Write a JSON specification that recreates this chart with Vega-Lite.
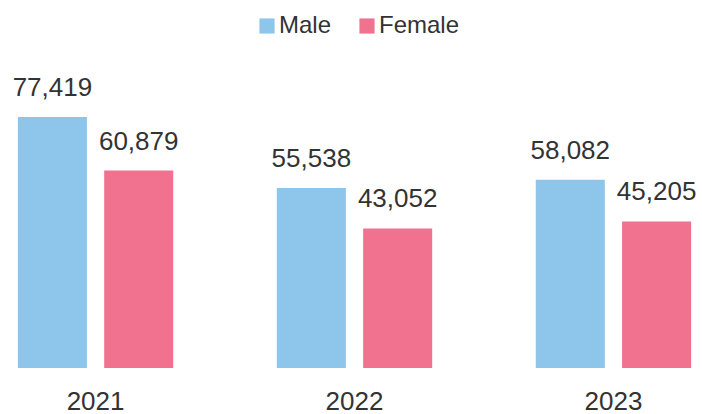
{
  "$schema": "https://vega.github.io/schema/vega-lite/v6.json",
  "width": 695,
  "height": 368,
  "autosize": {"type": "none"},
  "padding": {"left": 7, "top": 0, "right": 0, "bottom": 46},
  "background": "white",
  "config": {
    "view": {"stroke": null},
    "font": "Liberation Sans",
    "text": {"font": "Liberation Sans"}
  },
  "data": {
    "values": [
      {"year": "2021", "sex": "Male", "value": 77419},
      {"year": "2021", "sex": "Female", "value": 60879},
      {"year": "2022", "sex": "Male", "value": 55538},
      {"year": "2022", "sex": "Female", "value": 43052},
      {"year": "2023", "sex": "Male", "value": 58082},
      {"year": "2023", "sex": "Female", "value": 45205}
    ]
  },
  "encoding": {
    "x": {
      "field": "year",
      "type": "nominal",
      "scale": {"paddingInner": 0.4, "paddingOuter": 0.042},
      "axis": {
        "title": null,
        "domain": false,
        "ticks": false,
        "labelAngle": 0,
        "labelFontSize": 26,
        "labelColor": "#333333",
        "labelPadding": 20,
        "labelFont": "Liberation Sans"
      }
    },
    "xOffset": {
      "field": "sex",
      "type": "nominal",
      "sort": ["Male", "Female"],
      "scale": {"paddingInner": 0.2, "paddingOuter": 0}
    },
    "y": {
      "field": "value",
      "type": "quantitative",
      "scale": {"domain": [0, 113500], "nice": false},
      "axis": null
    }
  },
  "layer": [
    {
      "mark": {"type": "bar"},
      "encoding": {
        "color": {
          "field": "sex",
          "type": "nominal",
          "sort": ["Male", "Female"],
          "scale": {"domain": ["Male", "Female"], "range": ["#8EC5EB", "#F0728F"]},
          "legend": {
            "title": null,
            "orient": "none",
            "legendX": 248,
            "legendY": 14,
            "direction": "horizontal",
            "symbolType": "square",
            "symbolSize": 230,
            "symbolStrokeWidth": 0,
            "labelFontSize": 24,
            "labelColor": "#333333",
            "labelOffset": 0,
            "columnPadding": 23,
            "labelFont": "Liberation Sans"
          }
        }
      }
    },
    {
      "mark": {
        "type": "text",
        "baseline": "bottom",
        "dy": -16,
        "fontSize": 26,
        "color": "#333333"
      },
      "encoding": {
        "text": {"field": "value", "type": "quantitative", "format": ",d"}
      }
    }
  ]
}
